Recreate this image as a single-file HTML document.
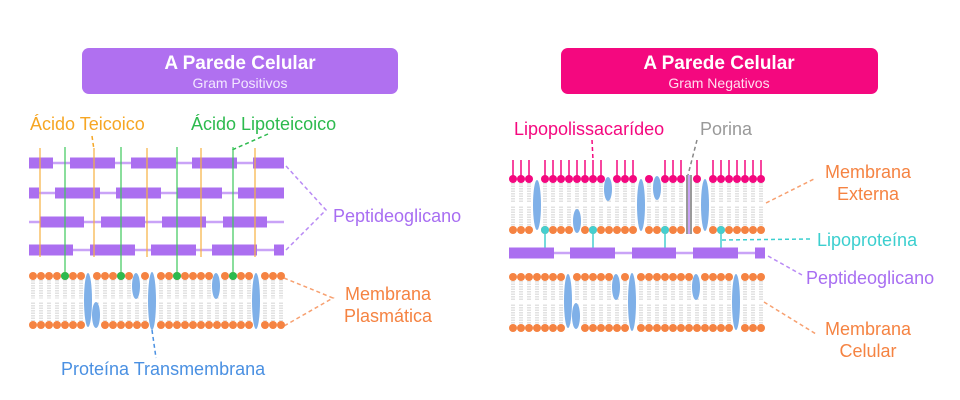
<!DOCTYPE html>
<html><head><meta charset="utf-8">
<style>
html,body{margin:0;padding:0;background:#fff;width:960px;height:400px;overflow:hidden}
svg text{font-family:"Liberation Sans",sans-serif}
</style></head>
<body>
<svg id="s" width="960" height="400" viewBox="0 0 960 400" xmlns="http://www.w3.org/2000/svg">
<rect x="82" y="48" width="316" height="46" rx="7" fill="#b070f0"/>
<text x="240" y="69" text-anchor="middle" font-size="19" font-weight="bold" fill="#fff">A Parede Celular</text>
<text x="240" y="88" text-anchor="middle" font-size="14" fill="#f3e8ff">Gram Positivos</text>
<rect x="561" y="48" width="317" height="46" rx="7" fill="#f4087f"/>
<text x="719" y="69" text-anchor="middle" font-size="19" font-weight="bold" fill="#fff">A Parede Celular</text>
<text x="719" y="88" text-anchor="middle" font-size="14" fill="#ffe0ef">Gram Negativos</text>

<g font-size="18">
<text x="30" y="130" fill="#f6a623">Ácido Teicoico</text>
<text x="191" y="130" fill="#2dba4e">Ácido Lipoteicoico</text>
<text x="333" y="222" fill="#a86ef2">Peptideoglicano</text>
<text x="388" y="300" text-anchor="middle" fill="#f58342">Membrana</text>
<text x="388" y="322" text-anchor="middle" fill="#f58342">Plasmática</text>
<text x="61" y="375" fill="#4a90e2">Proteína Transmembrana</text>
<text x="514" y="135" fill="#f4087f">Lipopolissacarídeo</text>
<text x="700" y="135" fill="#999">Porina</text>
<text x="868" y="178" text-anchor="middle" fill="#f58342">Membrana</text>
<text x="868" y="200" text-anchor="middle" fill="#f58342">Externa</text>
<text x="817" y="246" fill="#3ccfcf">Lipoproteína</text>
<text x="806" y="284" fill="#a86ef2">Peptideoglicano</text>
<text x="868" y="335" text-anchor="middle" fill="#f58342">Membrana</text>
<text x="868" y="357" text-anchor="middle" fill="#f58342">Celular</text>
</g>
<g fill="none" stroke-width="1.5" stroke-dasharray="4,3">
<path d="M92 136 L94 150" stroke="#f6a623"/>
<path d="M268 134 L232 150" stroke="#2dba4e"/>
<path d="M286 166 L326 210 L286 250" stroke="#b98af5"/>
<path d="M284 278 L333 298 L284 326" stroke="#f7a070"/>
<path d="M152 330 L156 358" stroke="#4a90e2"/>
<path d="M592 140 L593 160" stroke="#f4087f"/>
<path d="M697 140 L688 175" stroke="#888"/>
<path d="M766 203 L816 178" stroke="#f7a070"/>
<path d="M722 240 L810 239" stroke="#3ccfcf"/>
<path d="M768 256 L802 275" stroke="#b98af5"/>
<path d="M764 302 L816 334" stroke="#f7a070"/>
</g>
<g id="g"></g>
</svg>
<script>
var g=document.getElementById('g'),h='';
function R(x,y,w,hh,c){h+='<rect x="'+x+'" y="'+y+'" width="'+w+'" height="'+hh+'" fill="'+c+'"/>';}
function C(x,y,r,c){h+='<circle cx="'+x+'" cy="'+y+'" r="'+r+'" fill="'+c+'"/>';}
function L(x1,y1,x2,y2,c,w,d){h+='<line x1="'+x1+'" y1="'+y1+'" x2="'+x2+'" y2="'+y2+'" stroke="'+c+'" stroke-width="'+w+'"'+(d?' stroke-dasharray="'+d+'"':'')+'/>';}
function E(x,y,ry){h+='<ellipse cx="'+x+'" cy="'+y+'" rx="4" ry="'+ry+'" fill="#7fb0e8"/>';}
function pg(y,bars,x0,x1){L(x0,y,x1,y,'#c9a3f7',2.5);bars.forEach(function(b){R(b[0],y-5.5,b[1]-b[0],11,'#ab6ff0');});}
function mem(x0,yt,yb,prots,topc,botc){
 var yc=(yt+yb)/2;
 for(var i=0;i<32;i++){var x=x0+i*8;
  var skipT=false,skipB=false;
  prots.forEach(function(p){if(Math.abs(p[0]-x)<5){var t=p[1]-p[2],b=p[1]+p[2];if(t<yt+5)skipT=true;if(b>yb-5)skipB=true;}});
  L(x-1,yt+4,x-1,yc-2,'#c4c4c4',1,'1.5,1');L(x+1,yt+4,x+1,yc-2,'#c4c4c4',1,'1.5,1');
  L(x-1,yc+2,x-1,yb-4,'#c4c4c4',1,'1.5,1');L(x+1,yc+2,x+1,yb-4,'#c4c4c4',1,'1.5,1');
  if(!skipT){C(x,yt,4,topc(x));}
  if(!skipB)C(x,yb,4,botc(x));
 }
 prots.forEach(function(p){if(p[2]>0)E(p[0],p[1],p[2]);});
}
var inner=[[88,300,27],[96,315,13],[136,286,13],[152,301,29],[216,286,13],[256,301,28]];
pg(163,[[29,53],[70,115],[131,176],[192,237],[253,284]],29,284);
pg(193,[[29,39],[55,100],[116,161],[177,222],[238,284]],29,284);
pg(222,[[40,84],[101,145],[162,206],[223,267]],29,284);
pg(250,[[29,73],[90,135],[151,196],[212,257],[274,284]],29,284);
[40,94,147,201,255].forEach(function(x){L(x,148,x,257,'#f6b040',1.2);});
mem(33,276,325,inner,function(x){return '#f58342';},function(){return '#f58342';});
[65,121,177,233].forEach(function(x){L(x,147,x,272,'#3cc85a',1.2);C(x,276,4,'#2dba4e');});
var outer=[[537,205,25],[577,221,12],[608,189,12],[641,205,26],[657,188,12],[705,205,26]];
for(var i=0;i<32;i++){var x=513+i*8;var sk=false;outer.forEach(function(p){if(Math.abs(p[0]-x)<5&&p[1]-p[2]<184)sk=true;});if(!sk&&x!==689&&x!==649)L(x,160,x,178,'#f4087f',1.5);}
mem(513,179,230,outer.concat([[689,205,0]]),function(x){return x==689?'none':'#f4087f';},function(x){return x==689?'none':'#f58342';});
R(686,175,6,59,'#999');R(688,175,2,59,'#c9a3f7');
[545,593,665,721].forEach(function(x){L(x,230,x,250,'#45cfcf',1.5);C(x,230,4,'#45cfcf');});
pg(253,[[509,554],[570,615],[632,676],[693,738],[755,765]],509,765);
mem(513,277,328,inner.map(function(p){return [p[0]+480,p[1]+1,p[2]];}),function(){return '#f58342';},function(){return '#f58342';});
g.innerHTML=h;
</script>
</body></html>
